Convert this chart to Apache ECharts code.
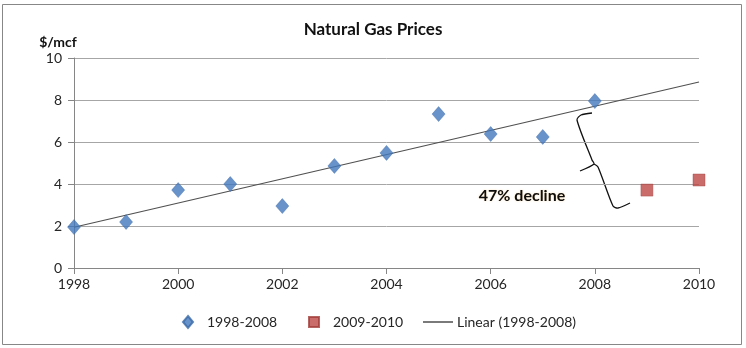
<!DOCTYPE html>
<html>
<head>
<meta charset="utf-8">
<script src="https://cdn.jsdelivr.net/npm/echarts@6/dist/echarts.min.js"></script>
<style>
  html, body { margin: 0; padding: 0; background: #fff; }
  #chart { width: 746px; height: 348px; }
</style>
</head>
<body>
<div id="chart"></div>
<script>
// Natural gas prices, $/mcf
const yearsHist = [1998, 1999, 2000, 2001, 2002, 2003, 2004, 2005, 2006, 2007, 2008];
const pricesHist = [1.95, 2.19, 3.71, 4.00, 2.95, 4.86, 5.48, 7.33, 6.38, 6.24, 7.95];
const yearsRecent = [2009, 2010];
const pricesRecent = [3.71, 4.19];
const seriesNames = ['1998-2008', '2009-2010', 'Linear (1998-2008)'];
const trendSpan = [1998, 2010];

// Least-squares fit over the 1998-2008 points, projected to 2010
function linearFit(xs, ys) {
  const n = xs.length;
  const mx = xs.reduce((a, b) => a + b, 0) / n;
  const my = ys.reduce((a, b) => a + b, 0) / n;
  let sxy = 0, sxx = 0;
  for (let i = 0; i < n; i++) {
    sxy += (xs[i] - mx) * (ys[i] - my);
    sxx += (xs[i] - mx) * (xs[i] - mx);
  }
  const slope = sxy / sxx;
  return x => my + slope * (x - mx);
}
const fit = linearFit(yearsHist, pricesHist);
const trendData = trendSpan.map(x => [x, fit(x)]);

const font = 'Lato, "Open Sans", sans-serif';
const labelColor = '#262626';
const chart = echarts.init(document.getElementById('chart'));

const legendBase = {
  top: 315, padding: 0, itemGap: 0,
  textStyle: { color: labelColor, fontSize: 14, fontFamily: font }
};

chart.setOption({
  animation: false,
  textStyle: { fontFamily: font },
  title: {
    text: 'Natural Gas Prices',
    left: 'center',
    top: 16,
    textStyle: { fontFamily: font, fontSize: 17, fontWeight: 'bold', color: '#111' }
  },
  grid: { left: 74, right: 47, top: 58, bottom: 80 },
  xAxis: {
    type: 'value',
    min: 1998, max: 2010, interval: 2,
    axisLine: { lineStyle: { color: '#868686' } },
    axisTick: { show: true, length: 6, lineStyle: { color: '#868686' } },
    axisLabel: { color: labelColor, fontSize: 14, margin: 9, fontFamily: font, formatter: v => String(v) },
    splitLine: { show: false }
  },
  yAxis: {
    type: 'value',
    min: 0, max: 10, interval: 2,
    name: '$/mcf',
    nameLocation: 'end',
    nameGap: 9,
    nameTextStyle: { color: '#111', fontSize: 14, fontWeight: 'bold', align: 'center', padding: [0, 32, 0, 0], fontFamily: font },
    axisLine: { show: true, lineStyle: { color: '#868686' } },
    axisTick: { show: true, length: 6, lineStyle: { color: '#868686' } },
    axisLabel: { color: labelColor, fontSize: 14, margin: 12, fontFamily: font },
    splitLine: { lineStyle: { color: '#a6a6a6' } }
  },
  legend: [
    Object.assign({}, legendBase, {
      data: [{ name: seriesNames[0], icon: 'diamond' }],
      left: 182, itemWidth: 10, itemHeight: 12,
      textStyle: Object.assign({}, legendBase.textStyle, { padding: [0, 0, 0, 9] })
    }),
    Object.assign({}, legendBase, {
      data: [{ name: seriesNames[1], icon: 'rect' }],
      left: 308, itemWidth: 10, itemHeight: 10,
      textStyle: Object.assign({}, legendBase.textStyle, { padding: [0, 0, 0, 9] })
    }),
    Object.assign({}, legendBase, {
      data: [{ name: seriesNames[2], icon: 'rect' }],
      left: 423, itemWidth: 30, itemHeight: 2,
      textStyle: Object.assign({}, legendBase.textStyle, { padding: [0, 0, 0, -1] })
    })
  ],
  series: [
    {
      name: seriesNames[2],
      type: 'line',
      data: trendData,
      symbol: 'none',
      lineStyle: { color: '#505050', width: 1.2 },
      itemStyle: { color: '#7a7a7a' },
      z: 2
    },
    {
      name: seriesNames[0],
      type: 'scatter',
      data: yearsHist.map((y, i) => [y, pricesHist[i]]),
      symbol: 'diamond',
      symbolSize: [13, 15],
      itemStyle: { color: '#4277bd', borderColor: '#3a69a6', borderWidth: 0.5 },
      z: 3
    },
    {
      name: seriesNames[1],
      type: 'scatter',
      data: yearsRecent.map((y, i) => [y, pricesRecent[i]]),
      symbol: 'rect',
      symbolSize: 12,
      itemStyle: { color: '#bd4845', borderColor: '#a33e3b', borderWidth: 0.5 },
      z: 3
    }
  ],
  graphic: [
    {
      type: 'rect',
      shape: { x: 2.5, y: 4.5, width: 739, height: 340 },
      style: { fill: 'none', stroke: '#878787', lineWidth: 1 },
      z: -1
    },
    {
      type: 'polyline',
      shape: {
        points: [[592, 113], [581, 115], [577, 120], [592, 160], [594, 164], [580, 171]],
        smooth: 0.25
      },
      style: { stroke: '#111', lineWidth: 1.3, fill: 'none' }
    },
    {
      type: 'polyline',
      shape: {
        points: [[594, 164], [598, 167], [613, 206], [618, 208], [630, 203]],
        smooth: 0.25
      },
      style: { stroke: '#111', lineWidth: 1.3, fill: 'none' }
    },
    {
      type: 'text',
      style: {
        x: 522, y: 196,
        text: '47% decline',
        align: 'center', verticalAlign: 'middle',
        font: 'bold 16px ' + font,
        fill: '#0d0d0d',
        textShadowColor: 'rgba(255,170,40,0.35)',
        textShadowBlur: 2
      }
    }
  ]
});
</script>
</body>
</html>
